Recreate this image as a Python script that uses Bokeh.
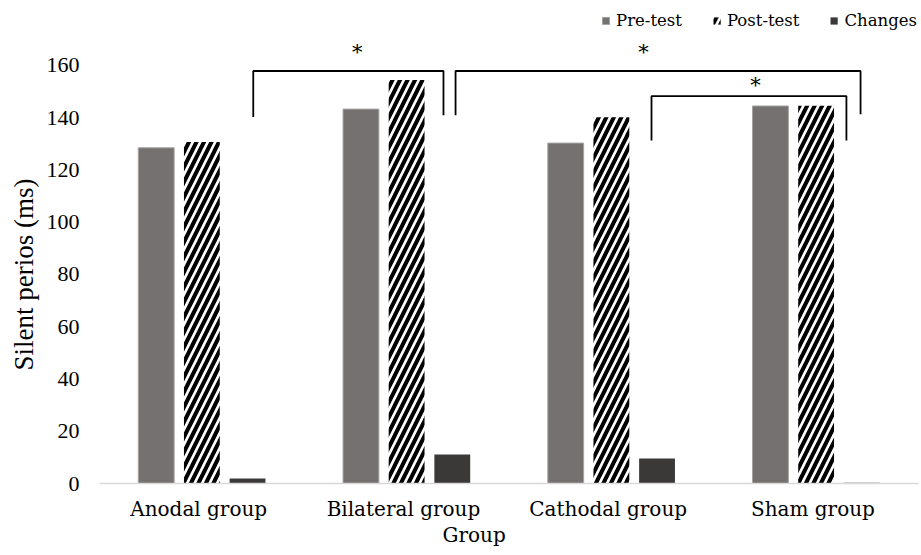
import numpy as np
from bokeh.plotting import figure
from bokeh.models import (Range1d, FixedTicker, Legend, LegendItem, Label,
                          ColumnDataSource, Title)
from bokeh.embed import file_html
from bokeh.resources import INLINE

# ---------------- data ----------------
groups = ["Anodal  group", "Bilateral  group", "Cathodal  group", "Sham  group"]
pre_test = [128.5, 143.3, 130.3, 144.5]
post_test = [130.7, 154.4, 140.2, 144.6]
changes = [1.9, 11.1, 9.6, 0.25]
y_ticks = [0, 20, 40, 60, 80, 100, 120, 140, 160]
series_names = ["Pre-test", "Post-test", "Changes"]

# significance brackets: (group_a, offset_a, group_b, offset_b, top, foot_a, foot_b)
brackets = [
    (0, 0.251, 1, 0.180, 157.9, 140.3, 141.0),
    (1, 0.239, 3, 0.217, 157.9, 141.0, 141.3),
    (2, 0.196, 3, 0.148, 148.3, 131.3, 131.3),
]
stars = [(1, -0.241, 165.0), (2, 0.157, 165.0), (3, -0.296, 152.7)]

# ---------------- layout constants ----------------
BAR_W = 0.175
OFF = 0.223
SERIF_LAT = "DejaVu Serif"
SERIF_TNR = "Liberation Serif"

n = len(groups)
centers = np.arange(n) + 0.5

src = ColumnDataSource(dict(
    pre_x=centers - OFF, post_x=centers, chg_x=centers + OFF,
    pre=pre_test, post=post_test, chg=changes,
))

p = figure(width=921, height=553, output_backend="svg", toolbar_location=None,
           x_range=Range1d(0, n), y_range=Range1d(0, 181.05),
           min_border_left=99, min_border_right=3, min_border_top=10,
           min_border_bottom=70)
p.outline_line_color = None
p.xgrid.visible = False
p.ygrid.visible = False
p.background_fill_color = "white"
p.border_fill_color = "white"

r_pre = p.vbar(x="pre_x", top="pre", width=BAR_W, source=src,
               fill_color="#767171", line_color="#a5a2a2", line_width=1)
r_post = p.vbar(x="post_x", top="post", width=BAR_W, source=src,
                fill_color="white", line_color=None,
                hatch_pattern="/", hatch_color="black",
                hatch_weight=4, hatch_scale=15)
r_chg = p.vbar(x="chg_x", top="chg", width=BAR_W, source=src,
               fill_color="#3b3838", line_color=None)

# axes
p.xaxis.ticker = FixedTicker(ticks=list(centers))
p.xaxis.major_label_overrides = {float(c): g for c, g in zip(centers, groups)}
p.xaxis.major_label_text_font = SERIF_LAT
p.xaxis.major_label_text_font_size = "20px"
p.xaxis.major_label_text_color = "black"
p.xaxis.major_label_standoff = 13
p.xaxis.axis_line_color = "#d9d9d9"
p.xaxis.axis_line_width = 1.5
p.xaxis.major_tick_line_color = None
p.xaxis.minor_tick_line_color = None
p.xaxis.major_tick_out = 0
p.xaxis.major_tick_in = 0

p.yaxis.ticker = FixedTicker(ticks=y_ticks)
p.yaxis.major_label_text_font = SERIF_TNR
p.yaxis.major_label_text_font_size = "22px"
p.yaxis.major_label_text_color = "black"
p.yaxis.major_label_standoff = 20
p.yaxis.axis_line_color = None
p.yaxis.major_tick_line_color = None
p.yaxis.minor_tick_line_color = None
p.yaxis.major_tick_out = 0
p.yaxis.major_tick_in = 0

# axis titles
p.add_layout(Title(text="Silent perios (ms)", align="left", offset=113,
                   text_font=SERIF_TNR, text_font_size="27px",
                   text_font_style="normal", text_color="black", standoff=9),
             "left")
p.add_layout(Title(text="Group", align="left", offset=343,
                   text_font=SERIF_LAT, text_font_size="20px",
                   text_font_style="normal", text_color="black", standoff=-5),
             "below")

# brackets
xs, ys = [], []
for ga, oa, gb, ob, top, fa, fb in brackets:
    xa = centers[ga] + oa
    xb = centers[gb] + ob
    xs.append([xa, xa, xb, xb])
    ys.append([fa, top, top, fb])
p.multi_line(xs=xs, ys=ys, line_color="black", line_width=1.8)
for g, o, yv in stars:
    p.add_layout(Label(x=centers[g] + o, y=yv, text="*", text_align="center",
                       text_baseline="middle", text_font=SERIF_LAT,
                       text_font_size="21px", text_color="black"))

# legend
legend = Legend(items=[LegendItem(label=s, renderers=[r])
                       for s, r in zip(series_names, [r_pre, r_post, r_chg])],
                location="top_right", orientation="horizontal")
legend.label_text_font = SERIF_LAT
legend.label_text_font_size = "16.5px"
legend.label_text_color = "black"
legend.glyph_width = 9
legend.glyph_height = 9
legend.label_standoff = 6
legend.spacing = 30
legend.padding = 0
legend.margin = 1
legend.border_line_color = None
legend.background_fill_alpha = 0
p.add_layout(legend)

open("out.html", "w").write(file_html(p, INLINE))
